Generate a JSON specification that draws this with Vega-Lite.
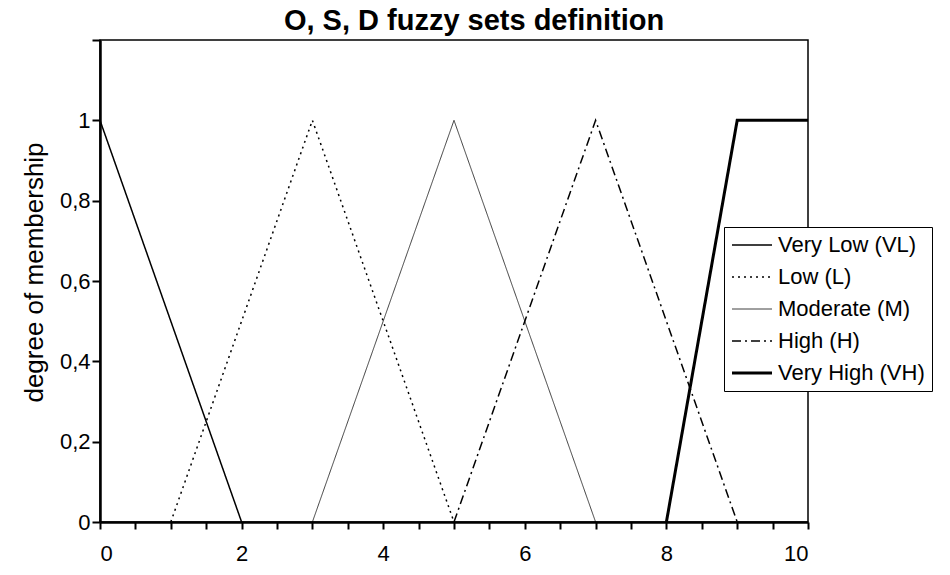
{
  "$schema": "https://vega.github.io/schema/vega-lite/v6.json",
  "autosize": "none",
  "width": 708,
  "height": 482,
  "padding": {"left": 100, "top": 40, "right": 142, "bottom": 53},
  "background": "white",
  "title": {
    "text": "O, S, D fuzzy sets definition",
    "font": "Liberation Sans",
    "fontSize": 29,
    "fontWeight": "bold",
    "color": "black",
    "anchor": "middle",
    "baseline": "alphabetic",
    "offset": 13,
    "dx": 20,
    "dy": 33
  },
  "config": {
    "view": {"stroke": "black", "strokeWidth": 1.5},
    "font": "Liberation Sans"
  },
  "data": {
    "values": [
      {"set": "Very Low (VL)", "x": 0, "y": 1},
      {"set": "Very Low (VL)", "x": 2, "y": 0},
      {"set": "Low (L)", "x": 1, "y": 0},
      {"set": "Low (L)", "x": 3, "y": 1},
      {"set": "Low (L)", "x": 5, "y": 0},
      {"set": "Moderate (M)", "x": 3, "y": 0},
      {"set": "Moderate (M)", "x": 5, "y": 1},
      {"set": "Moderate (M)", "x": 7, "y": 0},
      {"set": "High (H)", "x": 5, "y": 0},
      {"set": "High (H)", "x": 7, "y": 1},
      {"set": "High (H)", "x": 9, "y": 0},
      {"set": "Very High (VH)", "x": 8, "y": 0},
      {"set": "Very High (VH)", "x": 9, "y": 1},
      {"set": "Very High (VH)", "x": 10, "y": 1}
    ]
  },
  "mark": {"type": "line", "color": "black", "clip": false},
  "encoding": {
    "x": {
      "field": "x",
      "type": "quantitative",
      "scale": {"domain": [0, 10], "nice": false, "zero": false},
      "axis": {
        "title": null,
        "values": [0, 0.5, 1, 1.5, 2, 2.5, 3, 3.5, 4, 4.5, 5, 5.5, 6, 6.5, 7, 7.5, 8, 8.5, 9, 9.5, 10],
        "labelExpr": "datum.value % 2 == 0 ? format(datum.value, 'd') : ''",
        "grid": false,
        "domainColor": "black",
        "domainWidth": 2.5,
        "tickColor": "black",
        "tickWidth": 2,
        "tickSize": 7,
        "labelFontSize": 22,
        "labelColor": "black",
        "labelPadding": 14,
        "labelFont": "Liberation Sans"
      }
    },
    "y": {
      "field": "y",
      "type": "quantitative",
      "scale": {"domain": [0, 1.2], "nice": false},
      "axis": {
        "title": "degree of membership",
        "titleFontSize": 26,
        "titleFontWeight": "normal",
        "titleColor": "black",
        "titleFont": "Liberation Sans",
        "titlePadding": 12,
        "titleY": 232,
        "values": [0, 0.2, 0.4, 0.6, 0.8, 1, 1.2],
        "labelExpr": "datum.value > 1.1 ? '' : replace(format(datum.value, '.1~f'), '.', ',')",
        "grid": false,
        "domainColor": "black",
        "domainWidth": 2.5,
        "tickColor": "black",
        "tickWidth": 2,
        "tickSize": 8,
        "labelFontSize": 22,
        "labelColor": "black",
        "labelPadding": 2,
        "labelFont": "Liberation Sans"
      }
    },
    "detail": {"field": "set"},
    "strokeDash": {
      "field": "set",
      "type": "nominal",
      "scale": {
        "domain": ["Very Low (VL)", "Low (L)", "Moderate (M)", "High (H)", "Very High (VH)"],
        "range": [[1, 0], [2, 4], [1, 0], [9, 4, 2, 4], [1, 0]]
      },
      "legend": {
        "title": null,
        "orient": "none",
        "legendX": 624,
        "legendY": 187,
        "strokeColor": "black",
        "fillColor": "white",
        "padding": 7,
        "symbolType": "stroke",
        "symbolSize": 1600,
        "symbolStrokeColor": "black",
        "labelFontSize": 22,
        "labelColor": "black",
        "labelFont": "Liberation Sans",
        "labelOffset": 25,
        "rowPadding": 10,
        "labelLimit": 400,
        "encode": {
          "symbols": {
            "update": {
              "size": {"value": 1600},
              "x": {"value": 21},
              "strokeWidth": {"signal": "datum.value === 'Very High (VH)' ? 3 : datum.value === 'Moderate (M)' ? 0.75 : 1.5"}
            }
          }
        }
      }
    },
    "strokeWidth": {
      "condition": [
        {"test": "datum.set === 'Very High (VH)'", "value": 3},
        {"test": "datum.set === 'Moderate (M)'", "value": 0.75}
      ],
      "value": 1.5
    }
  }
}
